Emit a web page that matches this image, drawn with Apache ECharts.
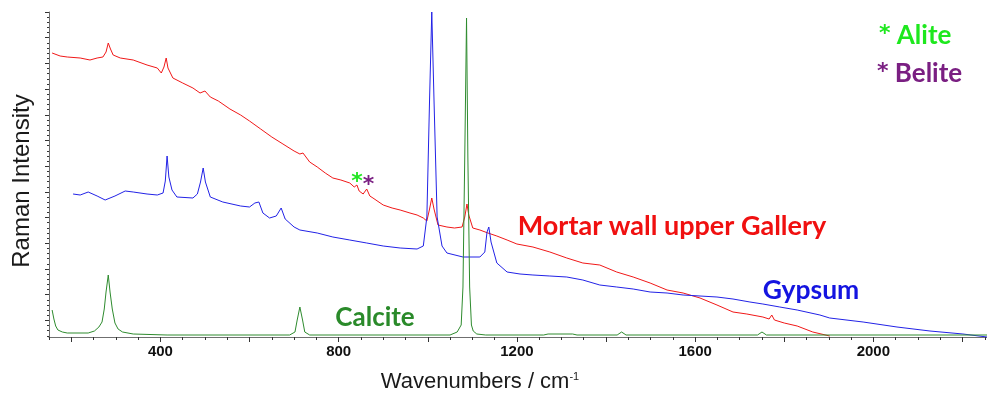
<!DOCTYPE html>
<html>
<head>
<meta charset="utf-8">
<script src="https://cdn.jsdelivr.net/npm/echarts@6/dist/echarts.min.js"></script>
<style>
html, body { margin: 0; padding: 0; background: #fff; }
#chart { width: 987px; height: 399px; }
</style>
</head>
<body>
<div id="chart"></div>
<script>
// Raman spectra, [wavenumber cm-1, intensity a.u.]
const mortar = [[157,284],[175,281],[191,280],[220,279],[242,277],[258,279],[271,280],[278,285],[283,294],[288,288],[294,282],[310,279],[339,277],[370,272],[393,269],[402,264],[408,270],[413,279],[417,269],[428,259],[450,254],[473,249],[489,244],[500,246],[512,240],[530,236],[556,228],[580,222],[600,216],[625,208],[650,200],[675,193],[700,186],[713,183],[720,184],[735,175],[752,170],[770,164],[787,159],[805,157],[825,154],[835,150],[841,152],[846,146],[855,143],[863,148],[870,141],[877,139],[900,132],[920,129],[938,127],[960,124],[976,122],[990,119],[998,116],[1004,128],[1009,139],[1014,128],[1023,112],[1043,110],[1060,109],[1077,110],[1083,120],[1088,133],[1092,122],[1101,109],[1117,107],[1135,104],[1155,101],[1178,97],[1200,93],[1236,90],[1274,85],[1312,79],[1348,74],[1386,72],[1424,65],[1461,60],[1499,54],[1537,47],[1573,44],[1611,39],[1649,32],[1685,25],[1716,23],[1752,20],[1766,18],[1772,22],[1778,17],[1800,14],[1829,11],[1864,5],[1902,1]];

const gypsum = [[204,143],[220,142],[238,145],[258,141],[276,137],[298,141],[321,146],[339,145],[370,143],[393,142],[406,144],[411,156],[415,181],[419,160],[426,147],[437,140],[473,139],[483,143],[490,155],[496,169],[501,155],[512,140],[540,135],[580,131],[600,130],[612,134],[621,135],[630,124],[645,119],[660,121],[671,129],[680,118],[700,110],[713,107],[752,104],[787,100],[825,97],[863,94],[900,91],[938,89],[976,88],[990,91],[998,120],[1004,237],[1009,325],[1014,237],[1021,120],[1032,91],[1043,84],[1079,80],[1117,80],[1128,85],[1133,105],[1137,110],[1142,95],[1155,74],[1178,65],[1207,63],[1236,62],[1274,61],[1312,60],[1348,57],[1386,52],[1424,50],[1461,48],[1499,45],[1537,44],[1573,42],[1611,41],[1649,40],[1685,38],[1723,35],[1752,33],[1790,30],[1829,27],[1880,22],[1902,19],[1977,15],[2053,10],[2127,6],[2201,3],[2255,0]];

const calcite = [[157,27],[161,18],[165,11],[170,7],[180,5],[191,4],[238,4],[252,6],[262,10],[269,15],[274,28],[278,45],[283,62],[287,45],[292,28],[298,14],[305,8],[315,5],[339,3],[415,2],[690,2],[702,5],[707,17],[713,30],[719,17],[724,5],[735,2],[1050,2],[1066,5],[1075,12],[1079,50],[1083,180],[1087,319],[1090,180],[1094,50],[1098,12],[1102,6],[1110,3],[1130,2],[1260,2],[1270,3],[1325,3],[1335,2],[1425,2],[1435,5],[1445,2],[1740,2],[1750,5],[1760,2],[2255,2]];

// peaks marked with asterisks
const alitePeak = [841, 155];
const belitePeak = [867, 152];

// axis ticks
const xLabels = [400, 800, 1200, 1600, 2000];
const xMajorTicks = [200, 400, 600, 800, 1000, 1200, 1400, 1600, 1800, 2000, 2200];
const xMinorTicks = [];
for (let v = 150; v <= 2250; v += 50) xMinorTicks.push(v);
const yMajorTicks = [];
for (let v = 325; v > 10; v -= 25.7) yMajorTicks.push(v);
const yMinorTicks = [];
for (let v = 325; v > 0; v -= 5.14) yMinorTicks.push(v);

const X_MIN = 150, X_MAX = 2255, Y_MIN = 0, Y_MAX = 325;

const chart = echarts.init(document.getElementById('chart'));

const option = {
    animation: false,
    backgroundColor: '#fff',
    grid: { left: 49, right: 0, top: 12, bottom: 62 },
    xAxis: [
        {
            type: 'value', min: X_MIN, max: X_MAX,
            axisLine: { show: true, lineStyle: { color: '#6f6f6f', width: 1 } },
            axisTick: { show: true, customValues: xMajorTicks, length: 5, lineStyle: { color: '#333' } },
            axisLabel: {
                customValues: xLabels, margin: 7,
                formatter: v => String(v),
                fontFamily: 'Arial', fontWeight: 'bold', fontSize: 15, color: '#111'
            },
            splitLine: { show: false }
        },
        {
            type: 'value', min: X_MIN, max: X_MAX, position: 'bottom',
            axisLine: { show: false },
            axisTick: { show: true, customValues: xMinorTicks, length: 3, lineStyle: { color: '#333' } },
            axisLabel: { show: false },
            splitLine: { show: false }
        }
    ],
    yAxis: [
        {
            type: 'value', min: Y_MIN, max: Y_MAX,
            axisLine: { show: true, lineStyle: { color: '#6f6f6f', width: 1 } },
            axisTick: { show: true, customValues: yMajorTicks, length: 4, lineStyle: { color: '#333' } },
            axisLabel: { show: false },
            splitLine: { show: false }
        },
        {
            type: 'value', min: Y_MIN, max: Y_MAX, position: 'left',
            axisLine: { show: false },
            axisTick: { show: true, customValues: yMinorTicks, length: 2, lineStyle: { color: '#333' } },
            axisLabel: { show: false },
            splitLine: { show: false }
        }
    ],
    series: [
        {
            name: 'Mortar wall upper Gallery', type: 'line', data: mortar,
            showSymbol: false, lineStyle: { color: '#f01818', width: 1 },
            markPoint: {
                symbol: 'circle', symbolSize: 1, itemStyle: { color: 'rgba(0,0,0,0)' },
                label: { show: true, position: 'inside', fontFamily: 'DejaVu Sans', fontWeight: 'bold', fontSize: 22 },
                data: [
                    { coord: alitePeak, label: { formatter: '*', color: '#22e622' } },
                    { coord: belitePeak, label: { formatter: '*', color: '#7a1f82' } }
                ]
            }
        },
        {
            name: 'Gypsum', type: 'line', data: gypsum,
            showSymbol: false, lineStyle: { color: '#2222e6', width: 1 }
        },
        {
            name: 'Calcite', type: 'line', data: calcite,
            showSymbol: false, lineStyle: { color: '#2e8b2e', width: 1 }
        }
    ],
    graphic: [
        {
            type: 'text', x: 22, y: 181, rotation: Math.PI / 2,
            style: { text: 'Raman Intensity', font: '24px "Liberation Sans"', fill: '#1a1a1a', align: 'center', verticalAlign: 'middle' }
        },
        {
            type: 'text', x: 480, y: 382,
            style: {
                text: '{a|Wavenumbers / cm}{b|-1}', align: 'center', verticalAlign: 'middle',
                rich: {
                    a: { fontFamily: 'Liberation Sans', fontSize: 22, fill: '#1a1a1a' },
                    b: { fontFamily: 'Liberation Sans', fontSize: 11, fill: '#1a1a1a', verticalAlign: 'top', padding: [0, 0, 10, 0] }
                }
            }
        },
        {
            type: 'text', x: 375, y: 318,
            style: { text: 'Calcite', font: 'bold 26px Lato', fill: '#2a8a2a', align: 'center', verticalAlign: 'middle' }
        },
        {
            type: 'text', x: 672, y: 226,
            style: { text: 'Mortar wall upper Gallery', font: 'bold 27px Lato', fill: '#f01010', align: 'center', verticalAlign: 'middle' }
        },
        {
            type: 'text', x: 811, y: 290,
            style: { text: 'Gypsum', font: 'bold 26.5px Lato', fill: '#1414e0', align: 'center', verticalAlign: 'middle' }
        },
        {
            type: 'text', x: 879, y: 36,
            style: {
                text: '{s|*}{w| Alite}', align: 'left', verticalAlign: 'middle',
                rich: {
                    s: { fontFamily: 'DejaVu Sans', fontWeight: 'bold', fontSize: 22, fill: '#1ee81e', verticalAlign: 'top' },
                    w: { fontFamily: 'Lato', fontWeight: 'bold', fontSize: 26, fill: '#1ee81e' }
                }
            }
        },
        {
            type: 'text', x: 877, y: 74,
            style: {
                text: '{s|*}{w| Belite}', align: 'left', verticalAlign: 'middle',
                rich: {
                    s: { fontFamily: 'DejaVu Sans', fontWeight: 'bold', fontSize: 22, fill: '#7a1f82', verticalAlign: 'top' },
                    w: { fontFamily: 'Lato', fontWeight: 'bold', fontSize: 26, fill: '#7a1f82' }
                }
            }
        }
    ]
};

chart.setOption(option);
</script>
</body>
</html>
